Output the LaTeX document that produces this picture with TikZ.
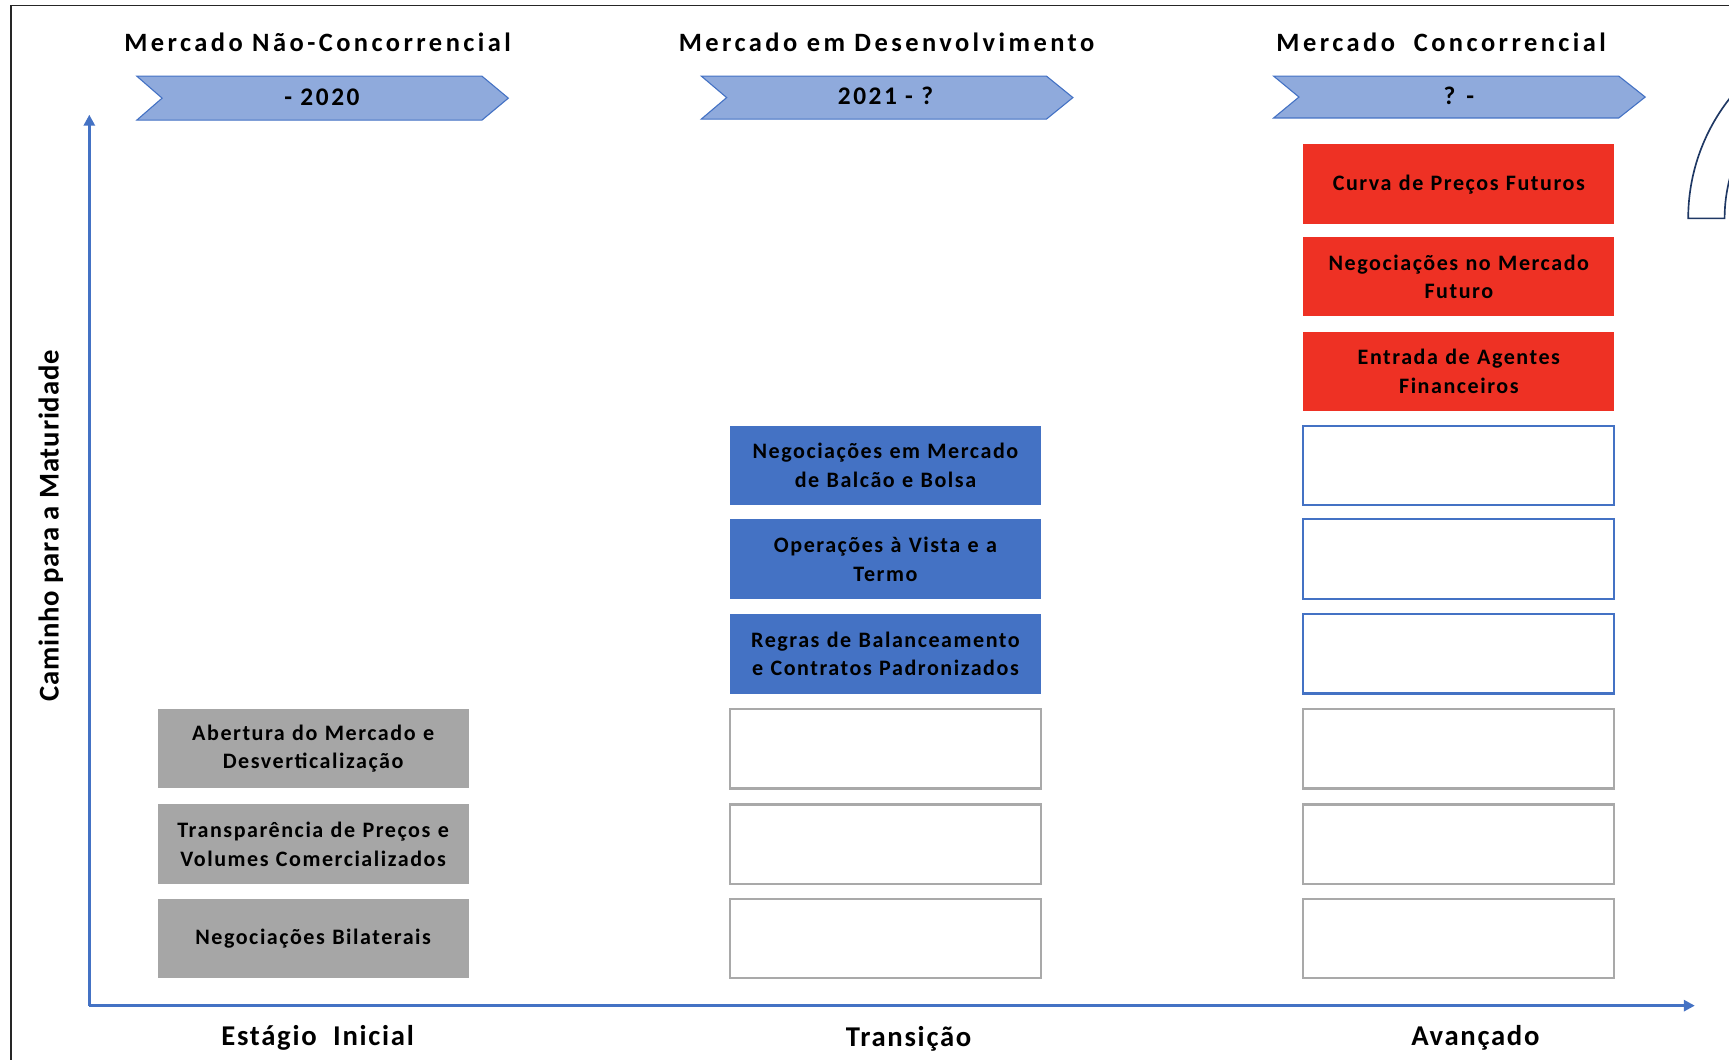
\documentclass[tikz,border=0pt]{standalone}
\usepackage{fontspec}
\setmainfont{Carlito}[LetterSpace=10]
\newfontfamily\titlefont{Carlito}[LetterSpace=13]
\newfontfamily\axisfont{Carlito}[LetterSpace=3]
\newfontfamily\boxfont{Carlito}[LetterSpace=7]
\newfontfamily\stagefont{Carlito}[LetterSpace=6]
\usetikzlibrary{arrows.meta}
\definecolor{axisblue}{HTML}{4472C4}
\definecolor{chevfill}{HTML}{8FAADC}
\definecolor{boxgray}{HTML}{A6A6A6}
\definecolor{boxblue}{HTML}{4472C4}
\definecolor{boxred}{HTML}{EE3124}
\definecolor{edgegray}{HTML}{A9A9A9}
\definecolor{navy}{HTML}{1F3864}
\tikzset{
  box/.style={minimum width=282pt, minimum height=72pt, inner sep=0pt, align=center,
    text width=280pt, font=\boxfont\fontsize{20}{26}\selectfont\bfseries},
  graybox/.style={box, fill=boxgray},
  bluebox/.style={box, fill=boxblue},
  redbox/.style={box, fill=boxred},
  emptygray/.style={box, fill=white, draw=edgegray, line width=2pt},
  emptyblue/.style={box, fill=white, draw=boxblue, line width=2pt},
  coltitle/.style={font=\titlefont\fontsize{24}{28}\selectfont\bfseries, inner sep=0pt},
  chevtext/.style={font=\fontsize{23}{26}\selectfont\bfseries, inner sep=0pt},
  stagelabel/.style={font=\stagefont\fontsize{26}{30}\selectfont\bfseries, inner sep=0pt},
  chev/.style={fill=chevfill, draw=boxblue, line width=1pt},
  axis/.style={draw=axisblue, line width=3pt, -{Triangle[length=10pt,width=10pt]}}
}
\begin{document}
\begin{tikzpicture}[x=1pt,y=-1pt]
\useasboundingbox (0,0) rectangle (1568,961);
% frame
\draw[line width=1.5pt, black!85] (10,961) -- (10,5) -- (1568,5);
% partial arch at top right
\begin{scope}
\clip (0,0) rectangle (1568,961);
\draw[navy, line width=1.5pt, fill=white] (1531,198) arc[start angle=180, end angle=240, radius=176] -- (1635.5,74.2) arc[start angle=240, end angle=180, radius=143] -- cycle;
\end{scope}
% axes
\coordinate (origin) at (81,912);
\coordinate (ytop) at (81,104);
\coordinate (xend) at (1537,912);
\draw[axis] (origin) -- (ytop);
\draw[axis] (origin) -- (xend);
\node[font=\axisfont\fontsize{26}{30}\selectfont\bfseries, rotate=90, inner sep=0pt] (ylab) at (46,477) {Caminho para a Maturidade};
% column titles
\node[coltitle] (t1) at (288,38) {Mercado Não-Concorrencial};
\node[coltitle] (t2) at (804,38) {Mercado em Desenvolvimento};
\node[coltitle] (t3) at (1307,38) {Mercado\ \ Concorrencial};
% chevrons
\draw[chev] (124,69) -- (437,69) -- (461,89) -- (437,109) -- (124,109) -- (147,89) -- cycle;
\node[chevtext] (c1) at (292,88) {- 2020};
\draw[chev] (636,69) -- (949,69) -- (973,88.5) -- (949,108) -- (636,108) -- (659,88.5) -- cycle;
\node[chevtext] (c2) at (803,87) {2021 - ?};
\draw[chev] (1155,69) -- (1468,69) -- (1492,88) -- (1468,107) -- (1155,107) -- (1178,88) -- cycle;
\node[chevtext] (c3) at (1323,87) {? -};
% column 1
\node[graybox] (a1) at (284,679) {Abertura do Mercado e\\Desverticalização};
\node[graybox] (a2) at (284,765.5) {Transparência de Preços e\\Volumes Comercializados};
\node[graybox] (a3) at (284,851) {Negociações Bilaterais};
% column 2
\node[bluebox] (b1) at (803,422) {Negociações em Mercado\\de Balcão e Bolsa};
\node[bluebox] (b2) at (803,507) {Operações à Vista e a\\Termo};
\node[bluebox] (b3) at (803,593) {Regras de Balanceamento\\e Contratos Padronizados};
\node[emptygray] (b4) at (803,679) {};
\node[emptygray] (b5) at (803,765.5) {};
\node[emptygray] (b6) at (803,851) {};
% column 3
\node[redbox] (r1) at (1323,167) {Curva de Preços Futuros};
\node[redbox] (r2) at (1323,251) {Negociações no Mercado\\Futuro};
\node[redbox] (r3) at (1323,337) {Entrada de Agentes\\Financeiros};
\node[emptyblue] (r4) at (1323,422) {};
\node[emptyblue] (r5) at (1323,507) {};
\node[emptyblue] (r6) at (1323,593) {};
\node[emptygray] (r7) at (1323,679) {};
\node[emptygray] (r8) at (1323,765.5) {};
\node[emptygray] (r9) at (1323,851) {};
% stage labels
\node[stagelabel] (s1) at (288,941) {Estágio\ \ Inicial};
\node[stagelabel] (s2) at (824,942) {Transição};
\node[stagelabel] (s3) at (1338,941) {Avançado};
\end{tikzpicture}
\end{document}
